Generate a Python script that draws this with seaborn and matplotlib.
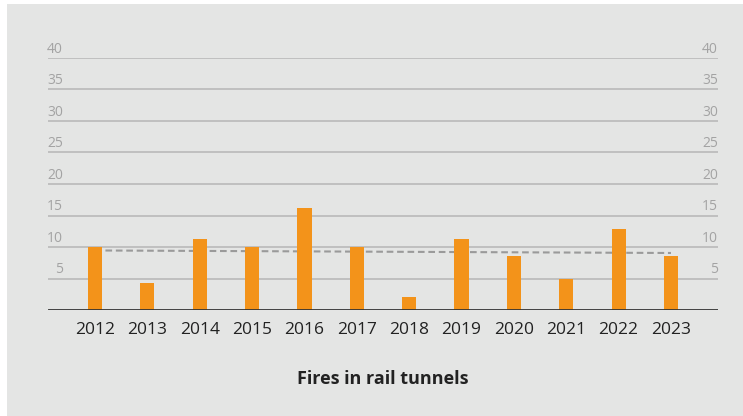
import matplotlib
matplotlib.use("Agg")
import matplotlib.pyplot as plt
from matplotlib.patches import Rectangle
import seaborn as sns
import pandas as pd

# Data
years = ["2012", "2013", "2014", "2015", "2016", "2017",
         "2018", "2019", "2020", "2021", "2022", "2023"]
fires = [10, 4.3, 11.2, 10, 16.2, 10, 2, 11.2, 8.5, 5, 12.8, 8.5]
trend_years = ["2012", "2023"]
trend_values = [9.45, 9.05]
y_ticks = [5, 10, 15, 20, 25, 30, 35, 40]
title = "Fires in rail tunnels"

sns.set_theme(style="white")
plt.rcParams["font.family"] = ["Open Sans", "DejaVu Sans"]

BG = "#e4e5e4"
ORANGE = "#f3931a"
GRID = "#b9b9b9"
TICK = "#a3a3a3"
DARK = "#222222"

fig = plt.figure(figsize=(7.43, 4.16), dpi=100, facecolor="white")
fig.patches.append(Rectangle((7 / 743, 0), 1, 1 - 4 / 416, transform=fig.transFigure,
                             facecolor=BG, edgecolor="none", zorder=-10))

ax = fig.add_axes([48 / 743, 1 - 310 / 416, 670 / 743, 252 / 416])
ax.set_facecolor("none")

df = pd.DataFrame({"year": years, "fires": fires})
sns.barplot(data=df, x="year", y="fires", color=ORANGE, saturation=1,
            width=0.27, linewidth=0, ax=ax, zorder=3)

# Trend line behind the bars
tx = [years.index(y) for y in trend_years]
ax.plot(tx, trend_values, color="#9a9a9a", lw=1.5, dashes=(3.2, 1.8), zorder=2)

# Horizontal guides with labels sitting above them on both sides
for v in y_ticks:
    ax.axhline(v, color=GRID, lw=1.2, zorder=1)
    ax.annotate(str(v), xy=(0.0225, v), xycoords=("axes fraction", "data"),
                xytext=(0, 1.0), textcoords="offset points",
                ha="right", va="bottom", fontsize=10, color=TICK)
    ax.annotate(str(v), xy=(1, v), xycoords=("axes fraction", "data"),
                xytext=(0, 1.0), textcoords="offset points",
                ha="right", va="bottom", fontsize=10, color=TICK)
ax.axhline(0, color="#333333", lw=2, zorder=4)

ax.set_xlim(-0.898, 11.898)
ax.set_ylim(0, 40)
ax.set_yticks([])
ax.set_xlabel("")
ax.set_ylabel("")
ax.tick_params(axis="x", length=0, pad=9, labelsize=12.5, labelcolor=DARK)
for s in ax.spines.values():
    s.set_visible(False)

fig.text(383 / 743, 1 - 379 / 416, title, ha="center", va="center",
         fontsize=13, fontweight="bold", color=DARK)

fig.savefig("out.png", dpi=100, facecolor="white")
